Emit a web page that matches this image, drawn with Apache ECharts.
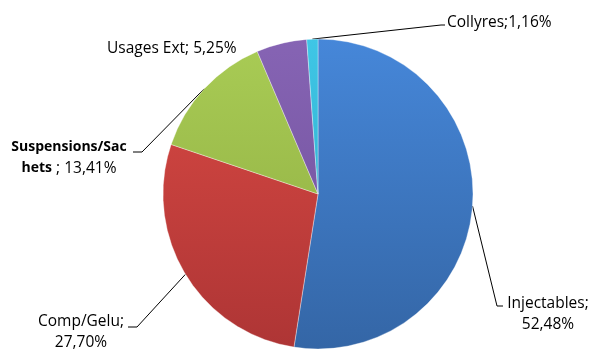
<!DOCTYPE html>
<html>
<head>
<meta charset="utf-8">
<script src="https://cdn.jsdelivr.net/npm/echarts@6/dist/echarts.min.js"></script>
<style>
html,body{margin:0;padding:0;background:#fff;}
#chart{width:591px;height:349px;}
</style>
</head>
<body>
<div id="chart"></div>
<script>
// ---- data ----
var categories = ['Injectables', 'Comp/Gelu', 'Suspensions/Sachets', 'Usages Ext', 'Collyres'];
var values = [52.48, 27.70, 13.41, 5.25, 1.16];

// ---- styles ----
var colorTop = ['#4687D9', '#DA4A44', '#A9CC55', '#8664B4', '#3FC6E6'];
var colorBot = ['#3466A6', '#AE3535', '#8DAA40', '#6E4E98', '#2AA6C4'];
// label placement: text anchor x,y, align, and leader elbow/end points (null = no line)
var labelPos = [
  {x: 548, y: 314, align: 'center', elbow: [497, 306], end: [503, 306]},
  {x: 81,  y: 332, align: 'center', elbow: [137, 327], end: [128, 327]},
  {x: 69,  y: 158, align: 'center', elbow: [142, 152], end: [133, 152]},
  {x: 107, y: 49,  align: 'left',   elbow: null, end: null},
  {x: 447, y: 23,  align: 'left',   elbow: [441, 25], end: [445, 25]}
];

function pct(v){ return v.toFixed(2).replace('.', ',') + '%'; }

var FONT = 'Open Sans';
var FS = 15.5;
var chart = echarts.init(document.getElementById('chart'), null, {renderer: 'canvas'});

var data = categories.map(function(name, i){
  return {
    name: name,
    value: values[i],
    itemStyle: {
      color: new echarts.graphic.LinearGradient(0, 38, 0, 348, [
        {offset: 0, color: colorTop[i]},
        {offset: 1, color: colorBot[i]}
      ], true)
    },
    labelLine: {show: labelPos[i].elbow !== null}
  };
});

chart.setOption({
  animation: false,
  backgroundColor: '#ffffff',
  series: [{
    type: 'pie',
    center: [318, 194],
    radius: [0, 155],
    startAngle: 90,
    clockwise: true,
    avoidLabelOverlap: false,
    data: data,
    itemStyle: {borderColor: 'rgba(255,255,255,0.35)', borderWidth: 1},
    label: {
      show: true,
      position: 'outside',
      fontFamily: FONT,
      fontSize: FS,
      color: '#000',
      lineHeight: 21,
      formatter: function(p){
        var i = p.dataIndex, n = p.name, v = pct(p.value);
        if (i === 0 || i === 1) return n + ';\n' + v;
        if (i === 2) return '{b|' + n.slice(0, 15) + '}\n{b|' + n.slice(15) + '}{r| ; ' + v + '}';
        if (i === 3) return n + '; ' + v;
        return n + ';' + v;
      },
      rich: {
        b: {fontWeight: 'bold', fontFamily: FONT, fontSize: 14, color: '#000', lineHeight: 21},
        r: {fontFamily: FONT, fontSize: FS, color: '#000', lineHeight: 21}
      }
    },
    labelLine: {
      show: true,
      length: 10,
      length2: 10,
      lineStyle: {color: '#000', width: 1}
    },
    labelLayout: function(params){
      var lp = labelPos[params.dataIndex];
      var res = {x: lp.x, y: lp.y, align: lp.align, verticalAlign: 'middle'};
      if (lp.elbow && params.labelLinePoints) {
        res.labelLinePoints = [params.labelLinePoints[0], lp.elbow, lp.end];
      }
      return res;
    }
  }]
});
</script>
</body>
</html>
